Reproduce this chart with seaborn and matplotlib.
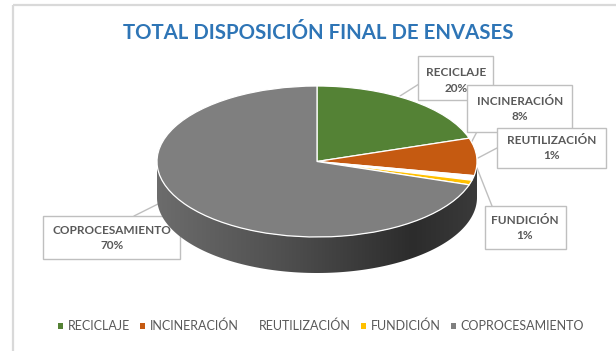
import numpy as np
import matplotlib
matplotlib.use("Agg")
import matplotlib.pyplot as plt
import seaborn as sns
from matplotlib.colors import LinearSegmentedColormap
from matplotlib.patches import Polygon, Rectangle, Patch

# Data
categories = ["RECICLAJE", "INCINERACIÓN", "REUTILIZACIÓN", "FUNDICIÓN", "COPROCESAMIENTO"]
shares = [20, 8, 1, 1, 70]
slice_colors = ["#548235", "#C55A11", "#FFFFFF", "#FFC000", "#7F7F7F"]
chart_title = "TOTAL DISPOSICIÓN FINAL DE ENVASES"

sns.set_theme(style="white")
plt.rcParams["font.family"] = ["Lato", "DejaVu Sans"]

W, H = 616, 351
fig = plt.figure(figsize=(W / 100, H / 100), dpi=100)
fig.patch.set_facecolor("white")

# Background axes in pixel units for frame, title and callouts
bg = fig.add_axes([0, 0, 1, 1])
bg.set_xlim(0, W)
bg.set_ylim(H, 0)
bg.axis("off")

frame_kw = dict(color="#d9d9d9", lw=1.6, solid_capstyle="butt")
bg.plot([13, 13], [5, H], **frame_kw)
bg.plot([13, W], [5, 5], **frame_kw)

bg.text(318, 33, chart_title, ha="center", va="center", fontsize=14.7,
        fontweight="bold", color="#2E75B6")

# Pie axes: the unit circle is squashed into an ellipse, with room below for the rim
px0, py0, pw, top_h, rim_h = 157, 86, 320, 151, 36
pie_ax = fig.add_axes([px0 / W, 1 - (py0 + top_h + rim_h) / H, pw / W, (top_h + rim_h) / H])
depth = rim_h / (top_h / 2)

# Rim of the disc, shaded left to right
t = np.linspace(np.pi, 2 * np.pi, 300)
lower = np.column_stack([np.cos(t), np.sin(t) - depth])
upper = np.column_stack([np.cos(t), np.sin(t)])[::-1]
rim = Polygon(np.vstack([lower, upper]), closed=True, facecolor="none",
              edgecolor="none", transform=pie_ax.transData)
pie_ax.add_patch(rim)
rim_cmap = LinearSegmentedColormap.from_list(
    "rim", [(0, "#6c6c6c"), (0.4, "#4f4f4f"), (0.8, "#2c2c2c"), (1, "#3a3a3a")])
grad = np.linspace(0, 1, 256)[None, :]
im = pie_ax.imshow(grad, extent=(-1, 1, -1 - depth, 0), aspect="auto",
                   cmap=rim_cmap, zorder=1)
im.set_clip_path(rim)

# Top face
wedges, _ = pie_ax.pie(shares, colors=slice_colors, startangle=90, counterclock=False,
                       radius=1, center=(0, 0),
                       wedgeprops=dict(edgecolor="white", linewidth=0.9))
for w in wedges:
    w.set_zorder(2)
    w.set_clip_on(False)
pie_ax.set_aspect("auto")
pie_ax.set_xlim(-1, 1)
pie_ax.set_ylim(-1 - depth, 1)
pie_ax.axis("off")

# Callout boxes (x0, y0, x1, y1), text centre and leader line
callouts = [
    dict(box=(418, 56, 493, 100), text=(456, 80.5), line=[(400, 96), (419, 84)]),
    dict(box=(467, 85, 572, 132), text=(520, 109), line=[(470, 145), (481, 124)]),
    dict(box=(497, 128, 606, 168), text=(552, 148), line=[(478, 158), (497, 148)]),
    dict(box=(485, 206, 566, 249), text=(525, 228), line=[(477, 168), (492, 206)]),
    dict(box=(43, 216, 180, 259), text=(112, 238), line=[(172, 197), (134, 216)]),
]
for i, (cat, val, c) in enumerate(zip(categories, shares, callouts)):
    z = 5 + i
    (lx0, ly0), (lx1, ly1) = c["line"]
    bg.plot([lx0, lx1], [ly0, ly1], color="#bfbfbf", lw=1.0, zorder=4)
    x0, y0, x1, y1 = c["box"]
    bg.add_patch(Rectangle((x0, y0), x1 - x0, y1 - y0, facecolor="white",
                           edgecolor="#bfbfbf", lw=1.0, zorder=z))
    bg.text(c["text"][0], c["text"][1], f"{cat}\n{val}%", ha="center", va="center",
            fontsize=8.5, fontweight="bold", color="#595959", linespacing=1.5,
            zorder=z + 0.5)

# Legend
handles = [Patch(facecolor=col, edgecolor="none") for col in slice_colors]
fig.legend(handles, categories, loc="center", bbox_to_anchor=(321 / W, 1 - 326 / H),
           ncol=5, frameon=False, fontsize=9, labelcolor="#595959",
           handlelength=0.4, handleheight=0.4, handletextpad=0.4, columnspacing=0.8)

fig.savefig("out.png", dpi=100, facecolor="white")
